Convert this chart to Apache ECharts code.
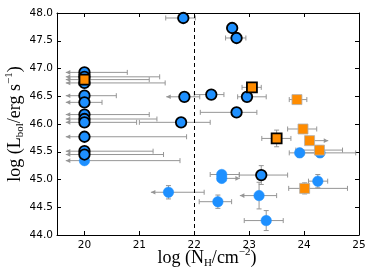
<!DOCTYPE html>
<html><head><meta charset="utf-8">
<script src="https://cdn.jsdelivr.net/npm/echarts@6/dist/echarts.min.js"></script>
<style>html,body{margin:0;padding:0;background:#fff}#c{width:374px;height:280px}</style>
</head><body><div id="c"></div>
<script>
// Tick labels
const xTicks = [20, 21, 22, 23, 24, 25];
const yTicks = [44.0, 44.5, 45.0, 45.5, 46.0, 46.5, 47.0, 47.5, 48.0];
const nhThreshold = 22;

// Rows: [logNH, logLbol, NH low end, NH high end, Lbol error, limit (0 none, 1 upper limit <-, 2 lower limit ->)]
const blueEdged = [
  [20, 46.93, 19.66, 20.78, 0, 1],
  [20, 46.85, 19.66, 21.37, 0, 1],
  [20, 46.74, 19.66, 21.47, 0, 1],
  [20, 46.51, 19.66, 20.58, 0, 1],
  [20, 46.39, 19.66, 20.32, 0, 1],
  [20, 46.17, 19.66, 21.18, 0, 1],
  [20, 46.09, 19.66, 21.32, 0, 1],
  [20, 46.03, 19.66, 20.95, 0, 1],
  [20, 45.77, 19.66, 21.86, 0, 1],
  [20, 45.51, 19.66, 21.25, 0, 1],
  [20, 45.45, 19.66, 21.44, 0, 1],
  [21.80, 47.91, 21.48, 22.02, 0, 0],
  [21.82, 46.49, 21.49, 22.10, 0, 1],
  [21.76, 46.03, 21.00, 22.29, 0, 0],
  [22.31, 46.53, 22.00, 22.54, 0, 0],
  [22.77, 46.21, 22.11, 23.14, 0, 0],
  [22.96, 46.49, 22.79, 23.31, 0, 0],
  [22.69, 47.73, 22.62, 22.78, 0, 0],
  [22.77, 47.55, 22.57, 22.94, 0, 0],
  [23.22, 45.08, 22.82, 23.70, 0.17, 0]
];
const bluePlain = [
  [20, 45.34, 19.66, 21.74, 0, 1],
  [21.53, 44.77, 21.21, 22.18, 0.12, 1],
  [22.50, 45.09, 22.29, 22.82, 0.05, 0],
  [22.50, 45.02, 22.50, 22.83, 0, 2],
  [24.25, 44.97, 24.08, 24.43, 0.12, 0],
  [23.18, 44.71, 22.83, 23.50, 0.24, 1],
  [22.43, 44.60, 22.09, 22.68, 0.12, 0],
  [23.31, 44.26, 22.91, 23.62, 0.18, 0],
  [23.92, 45.48, 23.73, 24.30, 0.08, 0],
  [24.29, 45.48, 24.00, 24.94, 0.08, 0]
];
const orangeEdged = [
  [20, 46.80, 19.66, 21.18, 0, 1],
  [23.05, 46.66, 22.87, 23.22, 0, 0],
  [23.50, 45.74, 23.23, 23.76, 0.15, 0]
];
const orangePlain = [
  [23.87, 46.44, 23.73, 24.05, 0, 0],
  [23.98, 45.91, 23.70, 24.23, 0, 0],
  [24.10, 45.70, 24.10, 24.44, 0, 2],
  [24.28, 45.53, 23.85, 24.70, 0.08, 0],
  [24.01, 44.84, 23.72, 24.79, 0.10, 0]
];

const BLUE = '#1e90ff', ORANGE = '#ff8c00', BAR = '#969696';

function renderBars(params, api) {
  const x = api.value(0), y = api.value(1), lo = api.value(2), hi = api.value(3), ye = api.value(4), lim = api.value(5);
  const pl = api.coord([lo, y]), ph = api.coord([hi, y]);
  const st = { stroke: BAR, lineWidth: 1, fill: null };
  const kids = [];
  kids.push({ type: 'line', shape: { x1: pl[0], y1: pl[1], x2: ph[0], y2: ph[1] }, style: st });
  if (lim === 1) {
    kids.push({ type: 'polygon', shape: { points: [[pl[0], pl[1]], [pl[0] + 4.5, pl[1] - 2.3], [pl[0] + 4.5, pl[1] + 2.3]] }, style: { fill: BAR } });
  } else {
    kids.push({ type: 'line', shape: { x1: pl[0], y1: pl[1] - 2.5, x2: pl[0], y2: pl[1] + 2.5 }, style: st });
  }
  if (lim === 2) {
    kids.push({ type: 'polygon', shape: { points: [[ph[0], ph[1]], [ph[0] - 4.5, ph[1] - 2.3], [ph[0] - 4.5, ph[1] + 2.3]] }, style: { fill: BAR } });
  } else {
    kids.push({ type: 'line', shape: { x1: ph[0], y1: ph[1] - 2.5, x2: ph[0], y2: ph[1] + 2.5 }, style: st });
  }
  if (ye > 0) {
    const a = api.coord([x, y - ye]), b = api.coord([x, y + ye]);
    kids.push({ type: 'line', shape: { x1: a[0], y1: a[1], x2: b[0], y2: b[1] }, style: st });
    kids.push({ type: 'line', shape: { x1: a[0] - 2.5, y1: a[1], x2: a[0] + 2.5, y2: a[1] }, style: st });
    kids.push({ type: 'line', shape: { x1: b[0] - 2.5, y1: b[1], x2: b[0] + 2.5, y2: b[1] }, style: st });
  }
  return { type: 'group', children: kids };
}

const allRows = blueEdged.concat(bluePlain, orangeEdged, orangePlain);
const tickFont = { fontFamily: 'DejaVu Sans', fontSize: 10.5, color: '#000' };
const labelRich = {
  sub: { fontFamily: 'Liberation Serif', fontSize: 11, lineHeight: 11, verticalAlign: 'bottom', fill: '#000' },
  sup: { fontFamily: 'Liberation Serif', fontSize: 11, lineHeight: 11, verticalAlign: 'top', fill: '#000' }
};

const chart = echarts.init(document.getElementById('c'), null, { renderer: 'canvas' });
chart.setOption({
  animation: false,
  grid: { left: 57, right: 15, top: 13, bottom: 45 },
  xAxis: [
    { type: 'value', min: 19.5, max: 25, position: 'bottom',
      axisLine: { lineStyle: { color: '#000', width: 1 } },
      axisTick: { inside: true, length: 4, customValues: xTicks, lineStyle: { color: '#000' } },
      axisLabel: { customValues: xTicks, margin: 5, ...tickFont, formatter: v => String(v) },
      splitLine: { show: false } },
    { type: 'value', min: 19.5, max: 25, position: 'top',
      axisLine: { lineStyle: { color: '#000', width: 1 } },
      axisTick: { inside: true, length: 4, customValues: xTicks, lineStyle: { color: '#000' } },
      axisLabel: { show: false }, splitLine: { show: false } }
  ],
  yAxis: [
    { type: 'value', min: 44, max: 48, position: 'left',
      axisLine: { show: true, lineStyle: { color: '#000', width: 1 } },
      axisTick: { show: true, inside: true, length: 4, customValues: yTicks, lineStyle: { color: '#000' } },
      axisLabel: { customValues: yTicks, margin: 4, ...tickFont, formatter: v => v.toFixed(1) },
      splitLine: { show: false } },
    { type: 'value', min: 44, max: 48, position: 'right',
      axisLine: { show: true, lineStyle: { color: '#000', width: 1 } },
      axisTick: { show: true, inside: true, length: 4, customValues: yTicks, lineStyle: { color: '#000' } },
      axisLabel: { show: false }, splitLine: { show: false } }
  ],
  series: [
    { type: 'custom', renderItem: renderBars, data: allRows, z: 1, silent: true,
      encode: { x: 0, y: 1 },
      markLine: { silent: true, symbol: 'none', label: { show: false },
        lineStyle: { color: '#000', type: [4, 3], width: 1 },
        data: [{ xAxis: nhThreshold }] } },
    { type: 'scatter', data: bluePlain.map(r => [r[0], r[1]]), symbol: 'circle', symbolSize: 10.5, z: 3,
      itemStyle: { color: BLUE, borderColor: BLUE, borderWidth: 0.5, opacity: 1 } },
    { type: 'scatter', data: blueEdged.map(r => [r[0], r[1]]), symbol: 'circle', symbolSize: 10.5, z: 4,
      itemStyle: { color: BLUE, borderColor: '#000', borderWidth: 1.8, opacity: 1 } },
    { type: 'scatter', data: orangePlain.map(r => [r[0], r[1]]), symbol: 'rect', symbolSize: 10, z: 5,
      itemStyle: { color: ORANGE, borderColor: '#b0b0b0', borderWidth: 0.8, opacity: 1 } },
    { type: 'scatter', data: orangeEdged.map(r => [r[0], r[1]]), symbol: 'rect', symbolSize: 10, z: 6,
      itemStyle: { color: ORANGE, borderColor: '#000', borderWidth: 1.8, opacity: 1 } }
  ],
  graphic: [
    { type: 'text', x: 207, y: 258, z: 10,
      style: { text: 'log (N{sub|H}/cm{sup|−2})', align: 'center', verticalAlign: 'middle',
        textAlign: 'center', textVerticalAlign: 'middle',
        fontFamily: 'Liberation Serif', fontSize: 18, lineHeight: 22, fill: '#000', rich: labelRich } },
    { type: 'text', x: 15, y: 124, rotation: Math.PI / 2, z: 10,
      style: { text: 'log (L{sub|bol}/erg s{sup|−1})', align: 'center', verticalAlign: 'middle',
        textAlign: 'center', textVerticalAlign: 'middle',
        fontFamily: 'Liberation Serif', fontSize: 18, lineHeight: 22, fill: '#000', rich: labelRich } }
  ]
});
</script></body></html>
